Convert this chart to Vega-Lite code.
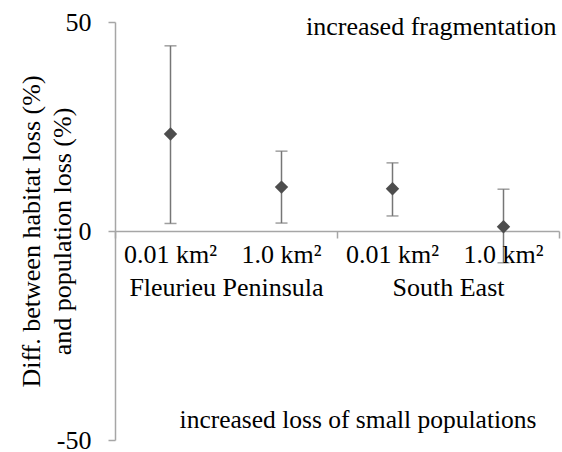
{
  "$schema": "https://vega.github.io/schema/vega-lite/v6.json",
  "width": 444,
  "height": 418,
  "autosize": "none",
  "padding": {"left": 115, "top": 22, "right": 3, "bottom": 12},
  "background": "white",
  "config": {
    "view": {"stroke": null},
    "font": "Liberation Serif",
    "axis": {
      "labelFont": "Liberation Serif",
      "titleFont": "Liberation Serif",
      "labelFontSize": 26,
      "titleFontSize": 26,
      "labelColor": "black",
      "titleColor": "black",
      "titleFontWeight": "normal",
      "grid": false,
      "domainColor": "#a6a6a6",
      "tickColor": "#a6a6a6",
      "domainWidth": 1.5,
      "tickWidth": 1.5
    }
  },
  "data": {
    "values": [
      {"region": "Fleurieu Peninsula", "size": "0.01 km²", "mean": 23.2, "lo": 1.8, "hi": 44.3},
      {"region": "Fleurieu Peninsula", "size": "1.0 km²", "mean": 10.5, "lo": 1.9, "hi": 19.1},
      {"region": "South East", "size": "0.01 km²", "mean": 10.1, "lo": 3.6, "hi": 16.3},
      {"region": "South East", "size": "1.0 km²", "mean": 1.0, "lo": -7.6, "hi": 10.0}
    ]
  },
  "encoding": {
    "x": {
      "field": "region",
      "type": "nominal",
      "scale": {"paddingInner": 0, "paddingOuter": 0},
      "axis": {
        "title": null,
        "labelAngle": 0,
        "labelLimit": 0,
        "tickBand": "extent",
        "tickSize": 7,
        "offset": -209,
        "labelPadding": 57,
        "labelBaseline": "alphabetic"
      }
    },
    "xOffset": {"field": "size", "type": "nominal", "scale": {"paddingInner": 0, "paddingOuter": 0}}
  },
  "layer": [
    {
      "mark": {"type": "rule", "color": "#767676", "strokeWidth": 1.5},
      "encoding": {
        "y": {
          "field": "lo",
          "type": "quantitative",
          "scale": {"domain": [-50, 50], "nice": false},
          "axis": {
            "values": [-50, 0, 50],
            "labelExpr": "toString(datum.value)",
            "tickSize": 7,
            "labelPadding": 17,
            "title": ["Diff. between habitat loss (%)", "and population loss (%)"],
            "titleLineHeight": 31,
            "titlePadding": -19
          }
        },
        "y2": {"field": "hi"}
      }
    },
    {
      "mark": {"type": "tick", "orient": "horizontal", "size": 12, "thickness": 1.5, "color": "#767676"},
      "encoding": {"y": {"field": "hi", "type": "quantitative"}}
    },
    {
      "mark": {"type": "tick", "orient": "horizontal", "size": 12, "thickness": 1.5, "color": "#767676"},
      "encoding": {"y": {"field": "lo", "type": "quantitative"}}
    },
    {
      "mark": {"type": "point", "shape": "diamond", "filled": true, "size": 180, "color": "#4d4d4d", "opacity": 1},
      "encoding": {"y": {"field": "mean", "type": "quantitative"}}
    },
    {
      "mark": {"type": "text", "baseline": "alphabetic", "dy": 32, "fontSize": 26, "font": "Liberation Serif", "color": "black"},
      "encoding": {
        "y": {"datum": 0, "type": "quantitative"},
        "text": {"field": "size"}
      }
    },
    {
      "data": {"values": [{"label": "increased fragmentation"}]},
      "mark": {"type": "text", "align": "right", "baseline": "alphabetic", "dx": 53, "dy": 13, "fontSize": 26, "font": "Liberation Serif", "color": "black"},
      "encoding": {
        "x": {"datum": "South East", "type": "nominal"},
        "xOffset": {"datum": "1.0 km²", "type": "nominal"},
        "y": {"datum": 50, "type": "quantitative"},
        "text": {"field": "label"}
      }
    },
    {
      "data": {"values": [{"label": "increased loss of small populations"}]},
      "mark": {"type": "text", "align": "right", "baseline": "alphabetic", "dx": 33, "dy": -12, "fontSize": 25.5, "font": "Liberation Serif", "color": "black"},
      "encoding": {
        "x": {"datum": "South East", "type": "nominal"},
        "xOffset": {"datum": "1.0 km²", "type": "nominal"},
        "y": {"datum": -50, "type": "quantitative"},
        "text": {"field": "label"}
      }
    }
  ]
}
